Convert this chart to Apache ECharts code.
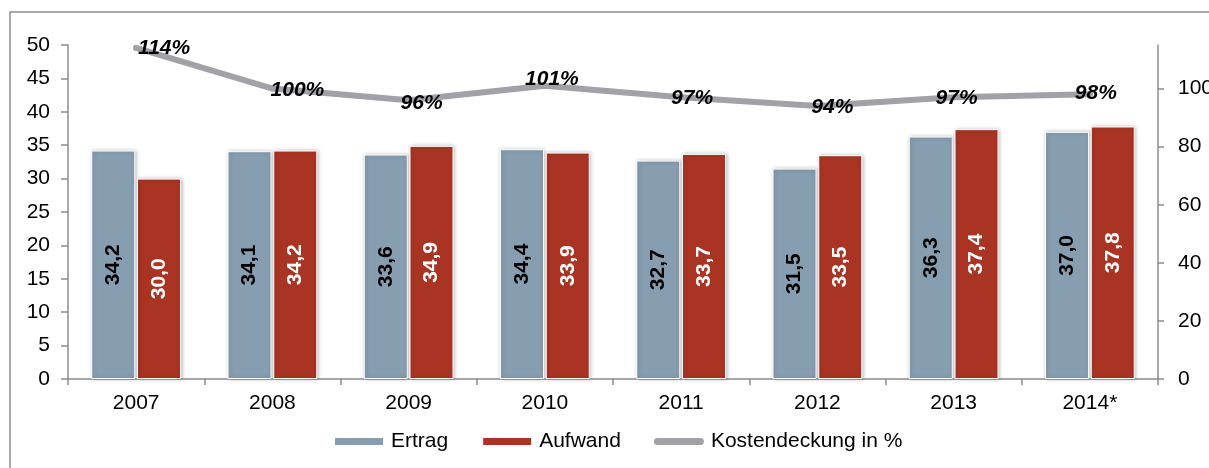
<!DOCTYPE html>
<html>
<head>
<meta charset="utf-8">
<script src="https://cdn.jsdelivr.net/npm/echarts@6/dist/echarts.min.js"></script>
<style>
  html, body { margin: 0; padding: 0; background: #fff; }
  #chart { width: 1209px; height: 468px; }
</style>
</head>
<body>
<div id="chart"></div>
<script>
// Daten
var years = ['2007', '2008', '2009', '2010', '2011', '2012', '2013', '2014*'];
var ertrag = [34.2, 34.1, 33.6, 34.4, 32.7, 31.5, 36.3, 37.0];
var aufwand = [30.0, 34.2, 34.9, 33.9, 33.7, 33.5, 37.4, 37.8];
var kostendeckung = [114, 100, 96, 101, 97, 94, 97, 98];
var leftTicks = [0, 50, 5];   // min, max, step
var rightTicks = [0, 115, 20];

// Lage der Prozent-Beschriftungen relativ zum Punkt
var pctOffsets = [[28, 0], [25, 2], [13, 3], [7, -6], [11, 1], [15, 1], [3, 1], [6, -1]];

var font = 'Liberation Sans, Arial, sans-serif';
var axisGray = '#8c8c8c';

function komma(v) {
  return v.toFixed(1).replace('.', ',');
}

var myChart = echarts.init(document.getElementById('chart'));
var option = {
  animation: false,
  textStyle: { fontFamily: font },
  graphic: [{
    type: 'rect',
    shape: { x: 10, y: 12, width: 1215, height: 480 },
    style: { fill: 'none', stroke: axisGray, lineWidth: 1.5 },
    silent: true
  }],
  grid: { left: 68, right: 51, top: 45, bottom: 89, outerBoundsMode: 'none', containLabel: false },
  legend: {
    left: 328,
    top: 426,
    itemWidth: 50,
    itemHeight: 9,
    itemGap: 33,
    textStyle: { fontSize: 21, color: '#000', fontFamily: font, padding: [0, 0, 0, 2] },
    data: [
      { name: 'Ertrag', icon: 'rect' },
      { name: 'Aufwand', icon: 'rect' },
      { name: 'Kostendeckung in %', icon: 'path://M4,0 H52 A4,4 0 0 1 52,8 H4 A4,4 0 0 1 4,0 Z' }
    ]
  },
  xAxis: {
    type: 'category',
    data: years,
    axisLine: { lineStyle: { color: axisGray, width: 1.5 } },
    axisTick: { show: true, length: 6, lineStyle: { color: axisGray, width: 1.5 } },
    axisLabel: { fontSize: 21, color: '#000', margin: 14 }
  },
  yAxis: [{
    type: 'value',
    min: leftTicks[0],
    max: leftTicks[1],
    interval: leftTicks[2],
    splitLine: { show: false },
    axisLine: { show: true, lineStyle: { color: axisGray, width: 1.5 } },
    axisTick: { show: true, length: 7, lineStyle: { color: axisGray, width: 1.5 } },
    axisLabel: { fontSize: 21, color: '#000', margin: 18 }
  }, {
    type: 'value',
    position: 'right',
    min: rightTicks[0],
    max: rightTicks[1],
    interval: rightTicks[2],
    splitLine: { show: false },
    axisLine: { show: true, lineStyle: { color: axisGray, width: 1.5 } },
    axisTick: { show: true, length: 6, lineStyle: { color: axisGray, width: 1.5 } },
    axisLabel: { fontSize: 21, color: '#000', margin: 20, showMaxLabel: false }
  }],
  series: [{
    name: 'Ertrag',
    type: 'bar',
    barWidth: 44,
    barGap: '4%',
    data: ertrag,
    itemStyle: {
      color: '#879db0',
      borderColor: '#fff',
      borderWidth: 1,
      shadowColor: 'rgba(0,0,0,0.25)',
      shadowBlur: 4,
      shadowOffsetX: 1
    },
    label: {
      show: true,
      position: 'inside',
      rotate: 90,
      fontSize: 21,
      fontWeight: 'bold',
      color: '#000',
      formatter: function (p) { return komma(p.value); }
    }
  }, {
    name: 'Aufwand',
    type: 'bar',
    barWidth: 44,
    data: aufwand,
    itemStyle: {
      color: '#a93424',
      borderColor: '#fff',
      borderWidth: 1,
      shadowColor: 'rgba(0,0,0,0.25)',
      shadowBlur: 4,
      shadowOffsetX: 1
    },
    label: {
      show: true,
      position: 'inside',
      rotate: 90,
      fontSize: 21,
      fontWeight: 'bold',
      color: '#fff',
      formatter: function (p) { return komma(p.value); }
    }
  }, {
    name: 'Kostendeckung in %',
    type: 'line',
    yAxisIndex: 1,
    symbol: 'circle',
    symbolSize: 6,
    z: 5,
    data: kostendeckung.map(function (v, i) {
      return { value: v, label: { offset: pctOffsets[i] } };
    }),
    lineStyle: { color: '#a1a1a7', width: 6, cap: 'round', join: 'round' },
    itemStyle: { color: '#a1a1a7' },
    label: {
      show: true,
      position: 'inside',
      fontSize: 21,
      fontWeight: 'bold',
      fontStyle: 'italic',
      color: '#000',
      formatter: '{c}%'
    }
  }]
};
myChart.setOption(option);
window.addEventListener('resize', function () {
  if (myChart) {
    myChart.resize();
  }
});
</script>
</body>
</html>
